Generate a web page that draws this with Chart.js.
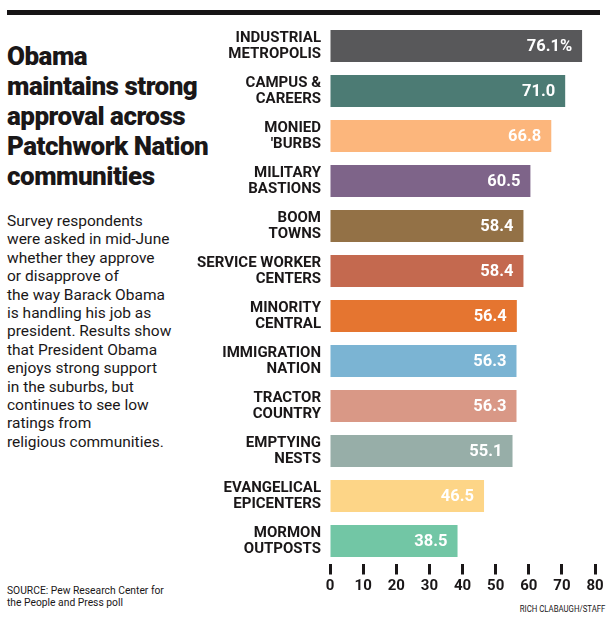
<!DOCTYPE html>
<html>
<head>
<meta charset="utf-8">
<script src="https://cdn.jsdelivr.net/npm/chart.js@4"></script>
<style>
  body { margin: 0; background: #fff; font-family: Roboto, sans-serif; color: #1a1718; }
  #wrap { position: relative; width: 607px; height: 617px; overflow: hidden; }
  #rule { position: absolute; left: 7px; top: 10px; width: 593px; height: 5px; background: #161415; }
  #title { position: absolute; left: 7px; top: 41px; font-size: 26px; line-height: 30px; font-weight: 900; letter-spacing: -0.5px; }
  #desc { position: absolute; left: 7px; top: 212px; font-size: 15.5px; line-height: 18.4px; }
  #source { position: absolute; left: 7px; top: 585px; font-size: 10.3px; line-height: 12px; }
  #credit { position: absolute; right: 2px; top: 603px; font-size: 9.5px; line-height: 11px; transform: scaleX(0.82); transform-origin: right; }
  canvas { position: absolute; left: 0; top: 0; }
</style>
</head>
<body>
<div id="wrap">
  <div id="rule"></div>
  <div id="title">Obama<br>maintains strong<br>approval across<br>Patchwork Nation<br>communities</div>
  <div id="desc">Survey respondents<br>were asked in mid-June<br>whether they approve<br>or disapprove of<br>the way Barack Obama<br>is handling his job as<br>president. Results show<br>that President Obama<br>enjoys strong support<br>in the suburbs, but<br>continues to see low<br>ratings from<br>religious communities.</div>
  <div id="source">SOURCE: Pew Research Center for<br>the People and Press poll</div>
  <div id="credit">RICH CLABAUGH/STAFF</div>
  <canvas id="approvalChart" width="607" height="617"></canvas>
</div>
<script>
const communities = [
  ['INDUSTRIAL', 'METROPOLIS'],
  ['CAMPUS &', 'CAREERS'],
  ['MONIED', "'BURBS"],
  ['MILITARY', 'BASTIONS'],
  ['BOOM', 'TOWNS'],
  ['SERVICE WORKER', 'CENTERS'],
  ['MINORITY', 'CENTRAL'],
  ['IMMIGRATION', 'NATION'],
  ['TRACTOR', 'COUNTRY'],
  ['EMPTYING', 'NESTS'],
  ['EVANGELICAL', 'EPICENTERS'],
  ['MORMON', 'OUTPOSTS']
];
const approval = [76.1, 71.0, 66.8, 60.5, 58.4, 58.4, 56.4, 56.3, 56.3, 55.1, 46.5, 38.5];
const barColors = ['#58585a', '#4c7b74', '#fcb67c', '#7e6489', '#937146', '#c4694f',
                   '#e57530', '#7bb4d3', '#d99886', '#97aea8', '#fdd587', '#72c6a5'];
const xTicks = [0, 10, 20, 30, 40, 50, 60, 70, 80];

Chart.defaults.font.family = 'Roboto';
Chart.defaults.color = '#1a1718';

// white value labels inside the bar ends
const valueLabels = {
  id: 'valueLabels',
  afterDatasetsDraw(chart) {
    const ctx = chart.ctx;
    const meta = chart.getDatasetMeta(0);
    ctx.save();
    ctx.font = 'bold 16.5px Roboto';
    ctx.fillStyle = '#ffffff';
    ctx.textAlign = 'right';
    ctx.textBaseline = 'middle';
    meta.data.forEach((bar, i) => {
      const txt = approval[i].toFixed(1) + (i === 0 ? '%' : '');
      ctx.fillText(txt, bar.x - 10, bar.y + 1);
    });
    ctx.restore();
  }
};

const ctx = document.getElementById('approvalChart').getContext('2d');
new Chart(ctx, {
  type: 'bar',
  data: {
    labels: communities,
    datasets: [{
      data: approval,
      backgroundColor: barColors,
      barPercentage: 0.71,
      categoryPercentage: 1
    }]
  },
  options: {
    indexAxis: 'y',
    responsive: false,
    animation: false,
    layout: { padding: { top: 23.5, right: 12, bottom: 0, left: 0 } },
    plugins: { legend: { display: false }, tooltip: { enabled: false } },
    scales: {
      x: {
        min: 0,
        max: 80,
        afterBuildTicks(scale) { scale.ticks = xTicks.map(v => ({ value: v })); },
        afterFit(scale) { scale.height = 53.5; },
        border: { display: false },
        grid: { drawOnChartArea: false, tickLength: 11, tickWidth: 3, tickColor: '#1a1718' },
        ticks: { padding: 3, font: { size: 15, weight: 'bold' }, color: '#1a1718' }
      },
      y: {
        afterFit(scale) { scale.width = 330; },
        border: { display: false },
        grid: { display: false },
        ticks: { padding: 1, font: { size: 15, weight: 'bold', lineHeight: 1.1 }, color: '#1a1718' }
      }
    }
  },
  plugins: [valueLabels]
});
</script>
</body>
</html>
